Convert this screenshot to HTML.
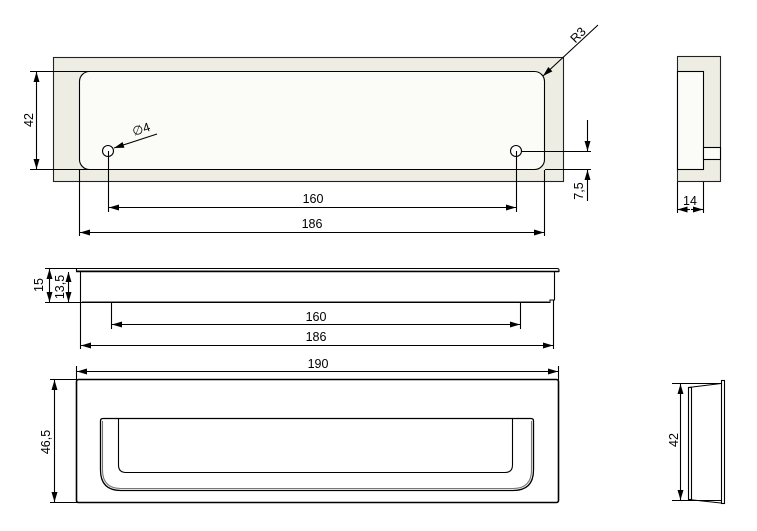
<!DOCTYPE html>
<html><head><meta charset="utf-8"><style>
html,body{margin:0;padding:0;background:#fff;}
svg{display:block;font-family:"Liberation Sans",Arial,sans-serif;}
</style></head><body>
<svg width="757" height="531" viewBox="0 0 757 531" xmlns="http://www.w3.org/2000/svg">
<defs>
<marker id="a" viewBox="0 0 10 6" refX="10" refY="3" markerWidth="11" markerHeight="6" markerUnits="userSpaceOnUse" orient="auto-start-reverse"><path d="M0,0 L10,3 L0,6 z" fill="#000"/></marker>
</defs>
<g stroke="#000" stroke-width="1.1" fill="none">
<rect x="53.5" y="57.5" width="510" height="124" fill="#ededE3" stroke="#222"/>
<rect x="79.5" y="71.5" width="465" height="98" rx="10" fill="#fbfbf7"/>
<circle cx="108" cy="151" r="5.5" fill="#fff"/>
<circle cx="516" cy="151" r="5.5" fill="#fff"/>
<line x1="30" y1="71.5" x2="90" y2="71.5"/>
<line x1="30" y1="169.5" x2="90" y2="169.5"/>
<line x1="36.5" y1="72" x2="36.5" y2="169" marker-start="url(#a)" marker-end="url(#a)"/>
<line x1="108.5" y1="151" x2="108.5" y2="212"/>
<line x1="516.5" y1="151" x2="516.5" y2="212"/>
<line x1="109" y1="207.5" x2="516" y2="207.5" marker-start="url(#a)" marker-end="url(#a)"/>
<line x1="79.5" y1="170" x2="79.5" y2="236"/>
<line x1="544.5" y1="170" x2="544.5" y2="236"/>
<line x1="80" y1="232.5" x2="544" y2="232.5" marker-start="url(#a)" marker-end="url(#a)"/>
<line x1="521" y1="151.5" x2="591" y2="151.5"/>
<line x1="545" y1="169.5" x2="591" y2="169.5"/>
<line x1="587.5" y1="120" x2="587.5" y2="151" marker-end="url(#a)"/>
<line x1="587.5" y1="201" x2="587.5" y2="170" marker-end="url(#a)"/>
<line x1="598" y1="25" x2="543" y2="76" marker-end="url(#a)"/>
<line x1="157" y1="134" x2="114" y2="148" marker-end="url(#a)"/>
<rect x="677.5" y="56.5" width="43" height="125" fill="#ededE3" stroke="#222"/>
<rect x="677.5" y="71.5" width="26" height="98" fill="#fbfbf7"/>
<rect x="703.5" y="147.5" width="17" height="12" fill="#fbfbf7"/>
<line x1="677.5" y1="182" x2="677.5" y2="213"/>
<line x1="703.5" y1="182" x2="703.5" y2="213"/>
<line x1="677.5" y1="209.5" x2="690" y2="209.5" marker-start="url(#a)"/>
<line x1="691" y1="209.5" x2="703" y2="209.5" marker-end="url(#a)"/>
<path d="M76.5,271 L76.5,268.5 L557,268.5 Q559,268.5 559,270 L559,271.5 Z" fill="#fff"/>
<line x1="76" y1="271.5" x2="559" y2="271.5" stroke-width="1.5"/>
<path d="M80.5,271.5 L80.5,302.5 L550,302.5 L550,300 L554.5,300 L554.5,271.5"/>
<line x1="82" y1="301.5" x2="549" y2="301.5" stroke="#888"/>
<line x1="45" y1="268.5" x2="77" y2="268.5"/>
<line x1="45" y1="302.5" x2="81" y2="302.5"/>
<line x1="49.5" y1="269" x2="49.5" y2="302" marker-start="url(#a)" marker-end="url(#a)"/>
<line x1="68.5" y1="272" x2="68.5" y2="302" marker-start="url(#a)" marker-end="url(#a)"/>
<line x1="111.5" y1="303" x2="111.5" y2="329"/>
<line x1="520.5" y1="303" x2="520.5" y2="329"/>
<line x1="112" y1="324.5" x2="520" y2="324.5" marker-start="url(#a)" marker-end="url(#a)"/>
<line x1="80.5" y1="303" x2="80.5" y2="349"/>
<line x1="553.5" y1="300" x2="553.5" y2="349"/>
<line x1="81" y1="345.5" x2="553" y2="345.5" marker-start="url(#a)" marker-end="url(#a)"/>
<line x1="76.5" y1="366" x2="76.5" y2="380"/>
<line x1="558.5" y1="366" x2="558.5" y2="380"/>
<line x1="77" y1="371.5" x2="558" y2="371.5" marker-start="url(#a)" marker-end="url(#a)"/>
<rect x="76.5" y="379.5" width="482" height="123" rx="2" stroke-width="1.6"/>
<line x1="50" y1="379.5" x2="90" y2="379.5"/>
<line x1="50" y1="502.5" x2="90" y2="502.5"/>
<line x1="54.5" y1="380" x2="54.5" y2="502" marker-start="url(#a)" marker-end="url(#a)"/>
<path d="M103,418.5 L531,418.5 Q533.5,418.5 533.5,421 L533.5,470 Q533.5,490.5 513,490.5 L121,490.5 Q100.5,490.5 100.5,470 L100.5,421 Q100.5,418.5 103,418.5 Z" stroke-width="1.3"/>
<path d="M102.5,421 L102.5,470 Q102.5,488.5 121,488.5 L513,488.5 Q531.5,488.5 531.5,470 L531.5,421" stroke="#777"/>
<path d="M118.5,418.5 L118.5,465 Q118.5,472.5 126,472.5 L505,472.5 Q512.5,472.5 512.5,465 L512.5,418.5"/>
<line x1="672" y1="383.5" x2="725" y2="383.5"/>
<line x1="672" y1="500.5" x2="725" y2="500.5"/>
<line x1="680.5" y1="384" x2="680.5" y2="500" marker-start="url(#a)" marker-end="url(#a)"/>
<rect x="721.5" y="380.5" width="3" height="123" fill="#fff"/>
<path d="M688.5,387.5 L721,383.5 M688.5,499.5 L721,503"/>
<rect x="688.5" y="387.5" width="3" height="112" fill="#fff"/>
</g>
<g font-size="12.5" fill="#000">
<text x="313" y="203" text-anchor="middle">160</text>
<text x="312" y="228" text-anchor="middle">186</text>
<text x="316" y="321" text-anchor="middle">160</text>
<text x="316" y="341" text-anchor="middle">186</text>
<text x="318" y="368" text-anchor="middle">190</text>
<text x="690" y="205" text-anchor="middle">14</text>
<text x="134" y="136" transform="rotate(-18 134 136)">∅4</text>
<text transform="translate(33,120) rotate(-90)" text-anchor="middle">42</text>
<text transform="translate(583,191) rotate(-90)" text-anchor="middle">7,5</text>
<text transform="translate(581,38) rotate(-45)" text-anchor="middle">R3</text>
<text transform="translate(43,285) rotate(-90)" text-anchor="middle">15</text>
<text transform="translate(64,287) rotate(-90)" text-anchor="middle">13,5</text>
<text transform="translate(50,442) rotate(-90)" text-anchor="middle">46,5</text>
<text transform="translate(678,440) rotate(-90)" text-anchor="middle">42</text>
</g>
</svg>
</body></html>
